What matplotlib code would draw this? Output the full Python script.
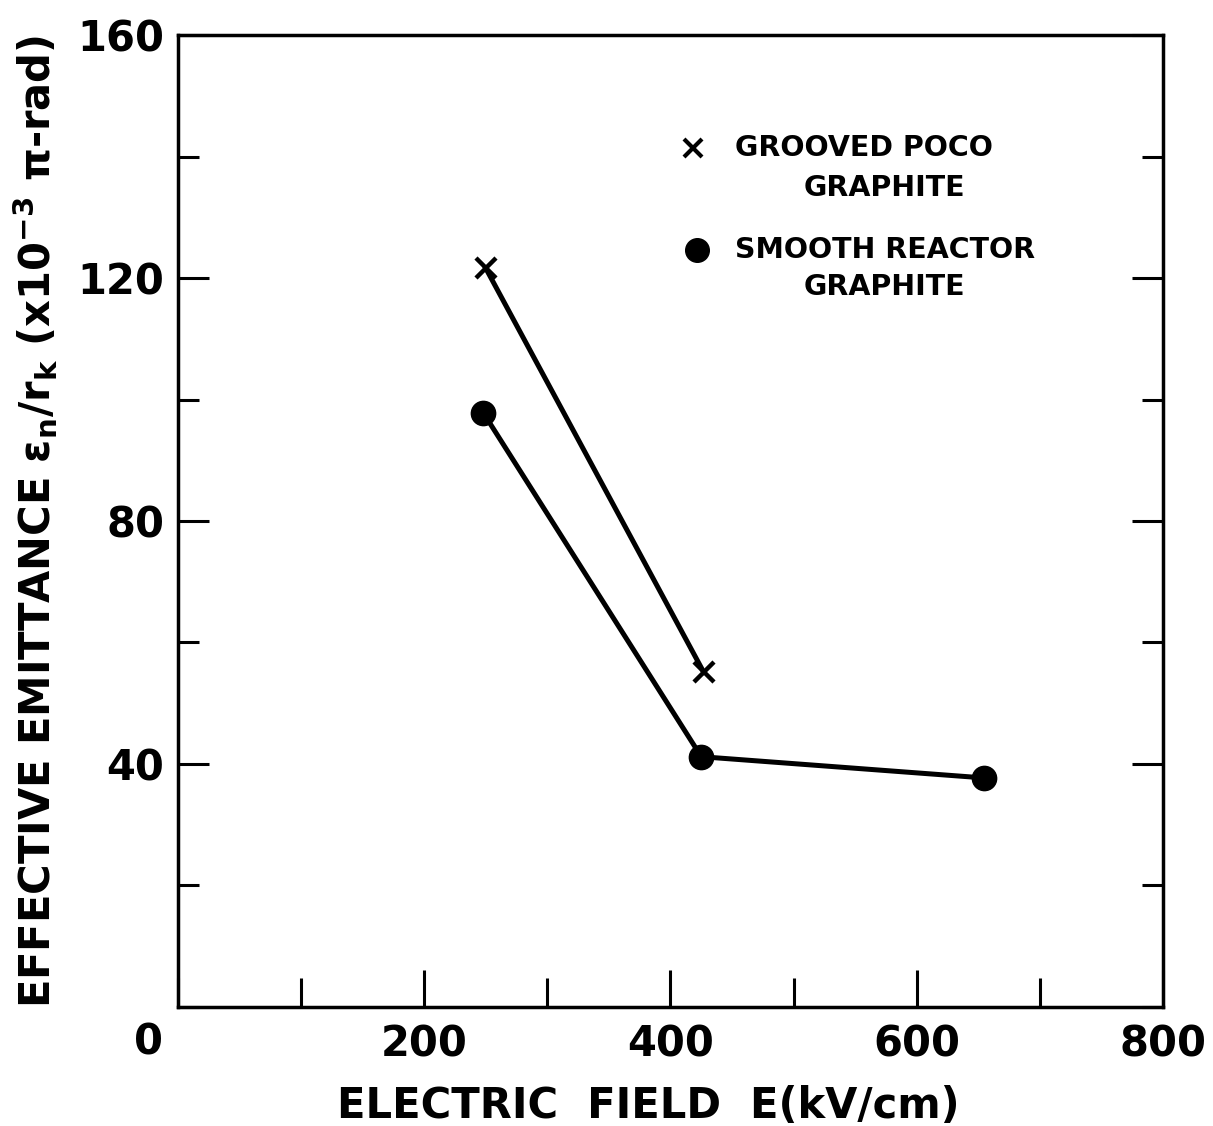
import matplotlib
matplotlib.use('Agg')
import matplotlib.pyplot as plt
from matplotlib.ticker import MultipleLocator

# data
poco_E = [250, 427]
poco_emit = [121.6, 55.1]
reactor_E = [248, 425, 655]
reactor_emit = [97.8, 41.2, 37.7]

plt.rcParams['font.family'] = 'DejaVu Sans'
plt.rcParams['font.weight'] = 'bold'
plt.rcParams['axes.labelweight'] = 'bold'
plt.rcParams['mathtext.fontset'] = 'dejavusans'
plt.rcParams['mathtext.default'] = 'bf'

fig = plt.figure(figsize=(12.13, 11.26), dpi=100)
ax = fig.add_axes([0.1467, 0.1057, 0.8121, 0.8632])

LW = 3.6
ax.plot(poco_E, poco_emit, color='black', lw=LW, marker='x', ms=15, mew=3.2)
ax.plot(reactor_E, reactor_emit, color='black', lw=LW, marker='o', ms=17.5)

ax.set_xlim(0, 800)
ax.set_ylim(0, 160)

for s in ax.spines.values():
    s.set_linewidth(2.5)

ax.xaxis.set_major_locator(MultipleLocator(200))
ax.xaxis.set_minor_locator(MultipleLocator(100))
ax.yaxis.set_major_locator(MultipleLocator(40))
ax.yaxis.set_minor_locator(MultipleLocator(20))
ax.tick_params(which='both', direction='in', top=False, right=True, width=2.2)
ax.tick_params(axis='x', which='major', length=27, pad=12, labelsize=30)
ax.tick_params(axis='x', which='minor', length=21)
ax.tick_params(axis='y', which='major', length=22, pad=10, labelsize=30)
ax.tick_params(axis='y', which='minor', length=15)
ax.set_xticks([200, 400, 600, 800])
ax.set_yticks([40, 80, 120, 160])
ax.text(-0.03, -0.037, '0', transform=ax.transAxes, ha='center', va='center', fontsize=30)

ax.set_xlabel('ELECTRIC  FIELD  E(kV/cm)', fontsize=30, labelpad=14, x=0.477)
ax.set_ylabel(r'EFFECTIVE EMITTANCE $\epsilon_n/r_k$ (x10$^{-3}$ $\pi$-rad)', fontsize=30, labelpad=12)

# legend drawn by hand
ax.plot([0.523], [0.884], transform=ax.transAxes, color='black', marker='x', ms=13, mew=3, ls='none')
ax.plot([0.527], [0.779], transform=ax.transAxes, color='black', marker='o', ms=17, ls='none')
ax.text(0.5655, 0.884, 'GROOVED POCO', transform=ax.transAxes, va='center', fontsize=20.5)
ax.text(0.635, 0.843, 'GRAPHITE', transform=ax.transAxes, va='center', fontsize=20.5)
ax.text(0.5655, 0.779, 'SMOOTH REACTOR', transform=ax.transAxes, va='center', fontsize=20.5)
ax.text(0.635, 0.741, 'GRAPHITE', transform=ax.transAxes, va='center', fontsize=20.5)

fig.savefig('out.png', dpi=100)
